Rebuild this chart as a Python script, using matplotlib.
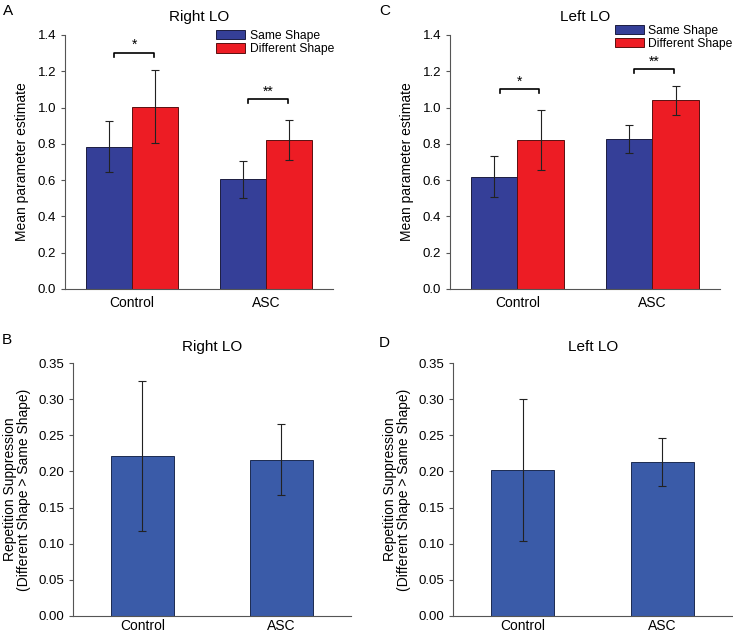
import matplotlib
matplotlib.use("Agg")
import matplotlib.pyplot as plt
import numpy as np

plt.rcParams["font.family"] = ["Liberation Sans", "DejaVu Sans"]

groups = ["Control", "ASC"]
conditions = ["Same Shape", "Different Shape"]

# panel A / C: mean parameter estimates (same, different) per group
right_same = [0.785, 0.605]
right_same_err = [0.141, 0.102]
right_diff = [1.005, 0.82]
right_diff_err = [0.200, 0.110]

left_same = [0.62, 0.827]
left_same_err = [0.113, 0.075]
left_diff = [0.822, 1.04]
left_diff_err = [0.165, 0.080]

# significance brackets: (group index, bracket height, label)
right_sig = [(0, 1.30, "*"), (1, 1.046, "**")]
left_sig = [(0, 1.10, "*"), (1, 1.21, "**")]

# panel B / D: repetition suppression
right_rs = [0.221, 0.216]
right_rs_err = [0.104, 0.049]
left_rs = [0.202, 0.213]
left_rs_err = [0.098, 0.033]

BLUE = "#353f98"
RED = "#ed1c24"
BLUE2 = "#3a5ba8"
SPINE = "#555555"


def style_axes(ax, xpad=5):
    ax.spines["top"].set_visible(False)
    ax.spines["right"].set_visible(False)
    ax.spines["left"].set_color(SPINE)
    ax.spines["bottom"].set_color(SPINE)
    ax.tick_params(axis="y", direction="out", length=3, color=SPINE, labelsize=9.5)
    ax.tick_params(axis="x", length=0, labelsize=10, pad=xpad)


def pair_panel(ax, same, same_err, diff, diff_err, sig, title, legend_pos):
    x = np.arange(len(groups))
    w = 0.345
    eb = dict(ecolor="#222222", elinewidth=0.8, capsize=2.9, capthick=0.8)
    ax.bar(x - w / 2, same, w, yerr=same_err, color=BLUE, edgecolor="#1c1c40",
           linewidth=0.7, label=conditions[0], error_kw=eb)
    ax.bar(x + w / 2, diff, w, yerr=diff_err, color=RED, edgecolor="#5a1010",
           linewidth=0.7, label=conditions[1], error_kw=eb)
    for gi, h, lab in sig:
        x0 = gi - w / 2 + 0.04
        x1 = gi + w / 2 - 0.01
        ax.plot([x0, x0, x1, x1], [h - 0.02, h, h, h - 0.02], color="black", lw=1.2)
        ax.text((x0 + x1) / 2, h + 0.005, lab, ha="center", va="bottom", fontsize=10)
    ax.set_xlim(-0.5, 1.5)
    ax.set_ylim(0, 1.4)
    ax.set_yticks(np.arange(0, 1.41, 0.2))
    ax.set_yticklabels([f"{v:.1f}" for v in np.arange(0, 1.41, 0.2)])
    ax.set_xticks(x)
    ax.set_xticklabels(groups)
    ax.set_ylabel("Mean parameter estimate", fontsize=10, labelpad=6)
    ax.set_title(title, fontsize=11, pad=10)
    style_axes(ax)
    ax.legend(loc="upper left", bbox_to_anchor=legend_pos, frameon=False,
              fontsize=8.7, handlelength=2.35, handleheight=0.85, handletextpad=0.4,
              labelspacing=0.1, borderaxespad=0)


def rs_panel(ax, vals, errs, title):
    x = np.arange(len(groups))
    ax.bar(x, vals, 0.45, yerr=errs, color=BLUE2, edgecolor="#1c2a50", linewidth=0.7,
           error_kw=dict(ecolor="#222222", elinewidth=0.8, capsize=2.9, capthick=0.8))
    ax.set_xlim(-0.5, 1.5)
    ax.set_ylim(0, 0.35)
    ax.set_yticks(np.arange(0, 0.351, 0.05))
    ax.set_yticklabels([f"{v:.2f}" for v in np.arange(0, 0.351, 0.05)])
    ax.set_xticks(x)
    ax.set_xticklabels(groups)
    ax.set_ylabel("Repetition Suppression\n(Different Shape > Same Shape)",
                  fontsize=10, labelpad=5, linespacing=1.0)
    ax.set_title(title, fontsize=11, pad=9)
    style_axes(ax, xpad=2)


fig = plt.figure(figsize=(7.33, 6.34), dpi=100)
ax_a = fig.add_axes([0.0887, 0.5442, 0.3656, 0.4006])
ax_c = fig.add_axes([0.614, 0.5442, 0.368, 0.4006])
ax_b = fig.add_axes([0.0996, 0.0284, 0.379, 0.399])
ax_d = fig.add_axes([0.618, 0.0284, 0.381, 0.399])

pair_panel(ax_a, right_same, right_same_err, right_diff, right_diff_err,
           right_sig, "Right LO", (0.547, 1.04))
pair_panel(ax_c, left_same, left_same_err, left_diff, left_diff_err,
           left_sig, "Left LO", (0.594, 1.06))
rs_panel(ax_b, right_rs, right_rs_err, "Right LO")
rs_panel(ax_d, left_rs, left_rs_err, "Left LO")

for lab, x, y in [("A", 0.004, 0.983), ("C", 0.517, 0.983),
                  ("B", 0.002, 0.464), ("D", 0.517, 0.459)]:
    fig.text(x, y, lab, fontsize=11, ha="left", va="center")

fig.savefig("out.png", dpi=100)
